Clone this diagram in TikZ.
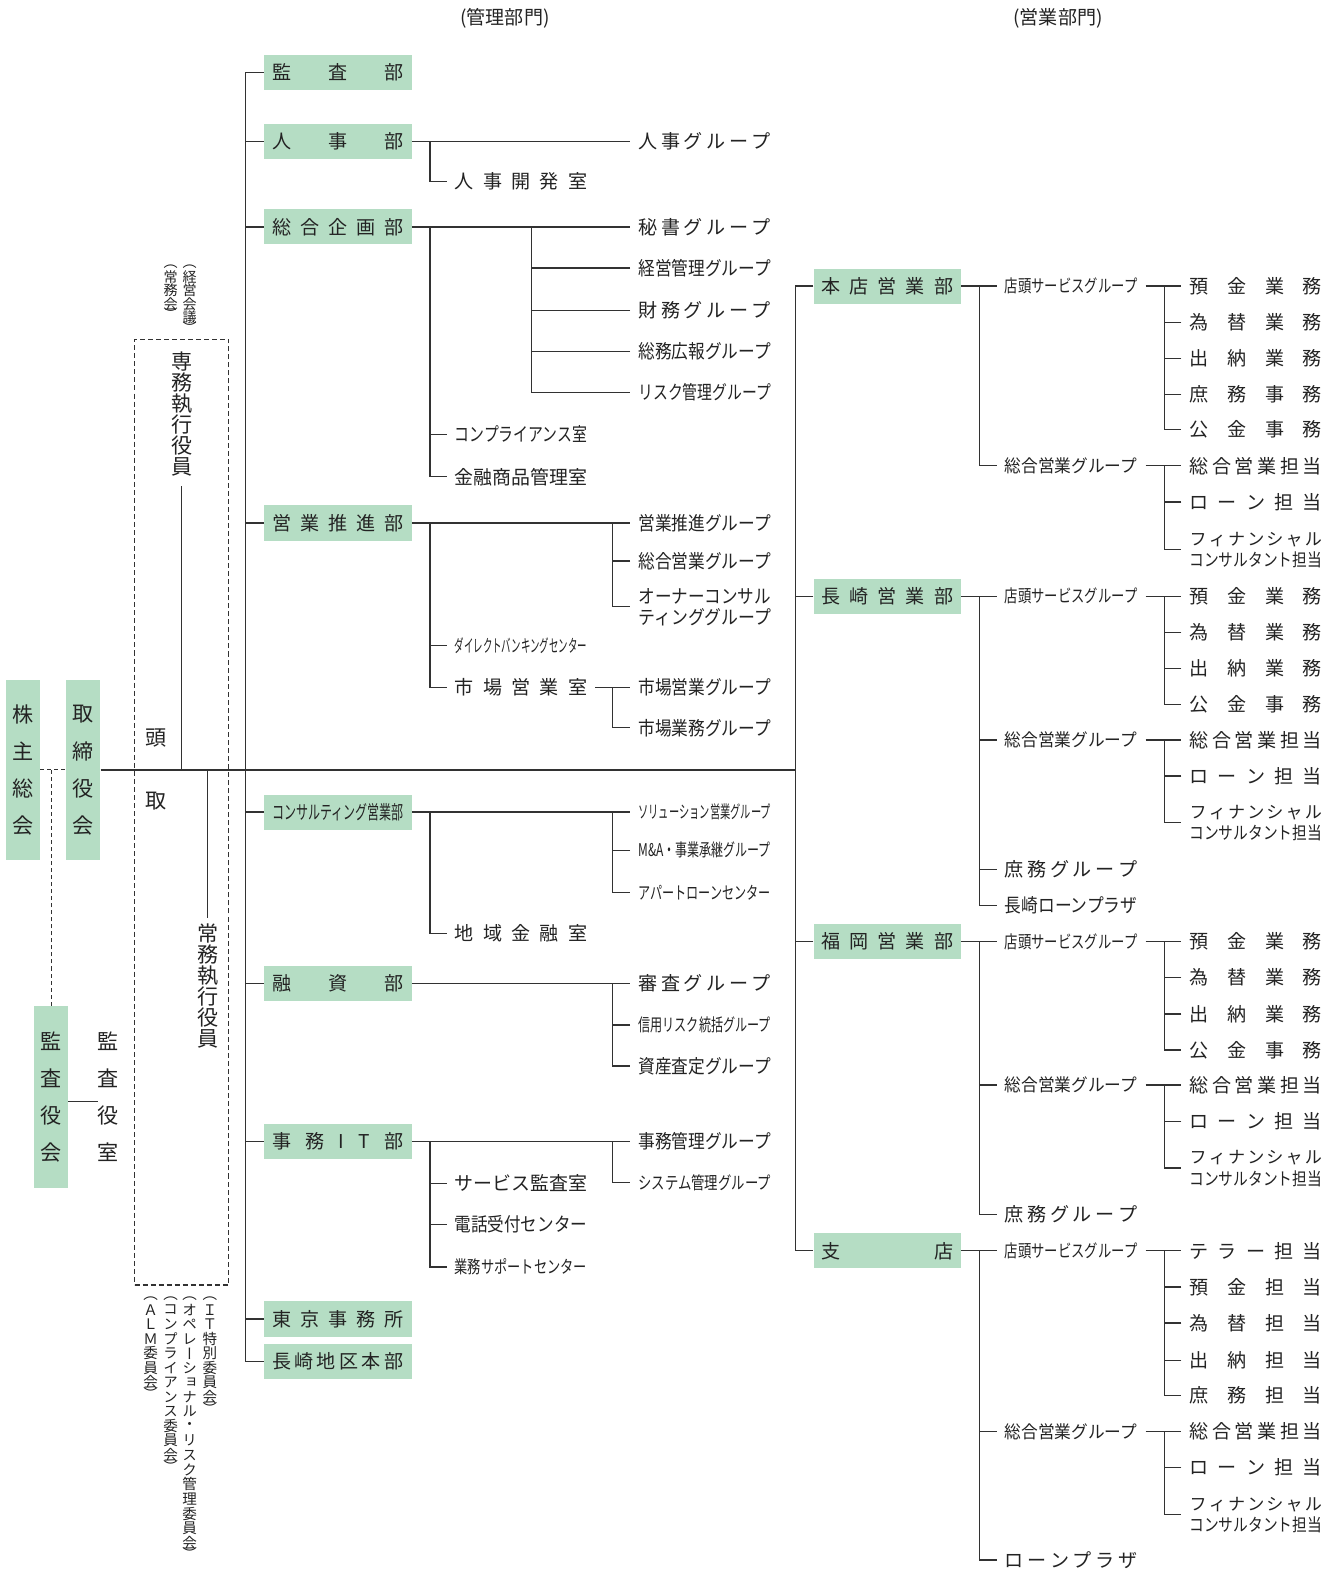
\documentclass[tikz,border=0pt]{standalone}
\usepackage{fontspec}
\usepackage{graphicx}
\setmainfont{Noto Sans CJK JP}
\newfontfamily\cjkv[RawFeature=+vert]{Noto Sans CJK JP}
\usetikzlibrary{calc}
\definecolor{boxgreen}{RGB}{181,221,196}
\definecolor{linec}{RGB}{50,50,50}
\definecolor{txt}{RGB}{35,35,35}

\makeatletter
% spread the characters of #2 evenly over width #1
\newlength\fit@w
\newcommand\spreadto[2]{\hbox to #1{\def\sp@sep{}\@tfor\sp@c:=#2\do{\sp@sep\sp@c\def\sp@sep{\hfil}}}}
% fit text to a fixed width: spread if short, condense if long
\newcommand\fit[2]{\settowidth\fit@w{#2}\ifdim\fit@w>#1\relax\resizebox{#1}{\height}{#2}\else\spreadto{#1}{#2}\fi}
% vertical writing: one character per cell, brackets take half a cell
\def\vs@lp{（}\def\vs@rp{）}
\newcommand\vs@cell[1]{\vbox to #1{\vss\hbox to 1em{\hss\vs@c\hss}\vss}}
\newcommand\vstack[2]{\vbox{\offinterlineskip\@tfor\vs@c:=#2\do{%
  \ifx\vs@c\vs@lp\vs@cell{\dimexpr#1/2\relax}\else
  \ifx\vs@c\vs@rp\vs@cell{\dimexpr#1/2\relax}\else
  \vs@cell{#1}\fi\fi}}}
\makeatother

\newcommand\orglbl[4][]{\node[lbl,#1] (#2) at #3 {\fit{132pt}{#4}};}

\begin{document}
\begin{tikzpicture}[x=1pt,y=-1pt,
  head/.style={font=\fontsize{19pt}{20pt}\selectfont, text=txt, inner sep=0pt},
  conn/.style={draw=linec, line width=1.35pt},
  dline/.style={draw=linec, line width=1.1pt, dash pattern=on 4pt off 3pt},
  frame/.style={draw=linec, line width=1.2pt, dash pattern=on 5pt off 3pt},
  orgbox/.style={fill=boxgreen, minimum width=147pt, minimum height=35pt, inner sep=0pt,
    font=\fontsize{19pt}{20pt}\selectfont, text=txt, text height=16.7pt, text depth=2.3pt},
  lbl/.style={inner xsep=8pt, inner ysep=0pt, font=\fontsize{19pt}{20pt}\selectfont,
    text=txt, text height=16.7pt, text depth=2.3pt},
  sm/.style={font=\fontsize{17.5pt}{18pt}\selectfont, text height=15.4pt, text depth=2.1pt},
  wide/.style={font=\fontsize{17pt}{18pt}\selectfont, text height=15pt, text depth=2pt},
  vbox/.style={fill=boxgreen, minimum width=34pt, inner sep=0pt, text=txt,
    font=\cjkv\fontsize{21pt}{21pt}\selectfont},
  vplain/.style={inner sep=0pt, text=txt, font=\cjkv\fontsize{21pt}{21pt}\selectfont},
  single/.style={inner sep=0pt, text=txt, font=\fontsize{21pt}{21pt}\selectfont},
  vsmall/.style={inner sep=0pt, text=txt, font=\cjkv\fontsize{14pt}{14pt}\selectfont},
  vcomm/.style={inner sep=0pt, text=txt, font=\cjkv\fontsize{14.5pt}{14.5pt}\selectfont}]

\fill[white] (0,0) rectangle (1330,1568);
\useasboundingbox (0,0) rectangle (1330,1568);

% column headings
\node[head] (hKanri) at (503,18) {(管理部門)};
\node[head] (hEigyo) at (1054,18) {(営業部門)};

% governance
\node[vbox, minimum height=180pt] (kabunushi) at (23,767) {\vstack{37pt}{株主総会}};
\node[vbox, minimum height=180pt] (torishimari) at (83,767) {\vstack{37pt}{取締役会}};
\node[vbox, minimum height=181pt] (kansayaku) at (51,1092.5) {\vstack{37pt}{監査役会}};
\node[vplain] (kansashitsu) at (108,1092.5) {\vstack{37pt}{監査役室}};

\node[frame, minimum width=94pt, minimum height=942pt] (execframe) at (181,809) {};
\node[vplain, anchor=north] (senmu) at (181,349) {\vstack{21pt}{専務執行役員}};
\node[single] (tou) at (155,735) {頭};
\node[single] (tori) at (155,798) {取};
\node[vplain, anchor=north] (joumu) at (207,919) {\vstack{21pt}{常務執行役員}};

\node[vsmall, anchor=north] (keieikaigi) at (189,262) {\vstack{13.5pt}{（経営会議）}};
\node[vsmall, anchor=north] (joumukai) at (170,262) {\vstack{13.5pt}{（常務会）}};
\node[vcomm, anchor=north] (itcomm) at (209,1290) {\vstack{14.5pt}{（ＩＴ特別委員会）}};
\node[vcomm, anchor=north] (oprisk) at (189,1290) {\vstack{14.5pt}{（オペレーショナル・リスク管理委員会）}};
\node[vcomm, anchor=north] (compcomm) at (170,1290) {\vstack{14.5pt}{（コンプライアンス委員会）}};
\node[vcomm, anchor=north] (almcomm) at (150,1290) {\vstack{14.5pt}{（ＡＬＭ委員会）}};

% administrative departments
\node[orgbox] (kansa) at (336.5,72) {\fit{131pt}{監査部}};
\node[orgbox] (jinji) at (336.5,141) {\fit{131pt}{人事部}};
\node[orgbox] (kikaku) at (336.5,226) {\fit{131pt}{総合企画部}};
\node[orgbox] (suishin) at (336.5,521) {\fit{131pt}{営業推進部}};
\node[orgbox] (consul) at (336.5,809) {\fit{131pt}{コンサルティング営業部}};
\node[orgbox] (yushi) at (336.5,980) {\fit{131pt}{融資部}};
\node[orgbox] (jimuit) at (336.5,1137) {\fit{131pt}{事務IT部}};
\node[orgbox] (tokyo) at (336.5,1314) {\fit{131pt}{東京事務所}};
\node[orgbox] (nhq) at (336.5,1356) {\fit{131pt}{長崎地区本部}};

% groups of the administrative departments
\orglbl{jinG}{(702,141)}{人事グループ}
\orglbl{kaihatsu}{(519,181)}{人事開発室}
\orglbl{hisho}{(702,226)}{秘書グループ}
\orglbl{keiei}{(702,267)}{経営管理グループ}
\orglbl{zaimu}{(702,309)}{財務グループ}
\orglbl{somu}{(702,350)}{総務広報グループ}
\orglbl{riskg}{(702,391)}{リスク管理グループ}
\orglbl{comp}{(519,433)}{コンプライアンス室}
\orglbl{kinyu}{(519,475)}{金融商品管理室}
\orglbl{suishinG}{(702,521)}{営業推進グループ}
\orglbl{sogoeG}{(702,559)}{総合営業グループ}
\orglbl{owner1}{(702,594)}{オーナーコンサル}
\orglbl{owner2}{(702,615)}{ティンググループ}
\orglbl[sm]{direct}{(519,643)}{ダイレクトバンキングセンター}
\orglbl{shijo}{(519,685)}{市場営業室}
\orglbl{shijoEG}{(702,685)}{市場営業グループ}
\orglbl{shijoGG}{(702,725)}{市場業務グループ}
\orglbl[sm]{solution}{(702,809)}{ソリューション営業グループ}
\orglbl[sm]{ma}{(702,847)}{M\&A・事業承継グループ}
\orglbl[sm]{apart}{(702,889)}{アパートローンセンター}
\orglbl{chiiki}{(519,930)}{地域金融室}
\orglbl{shinsa}{(702,980)}{審査グループ}
\orglbl[sm]{shinyo}{(702,1021)}{信用リスク統括グループ}
\orglbl{shisan}{(702,1062)}{資産査定グループ}
\orglbl{jimukanri}{(702,1137)}{事務管理グループ}
\orglbl[sm]{system}{(702,1178)}{システム管理グループ}
\orglbl{service}{(519,1179)}{サービス監査室}
\orglbl{denwa}{(519,1220)}{電話受付センター}
\orglbl[sm]{gyomu}{(519,1262)}{業務サポートセンター}

% sales departments
\node[orgbox] (honten) at (884,285) {\fit{131pt}{本店営業部}};
\node[orgbox] (nagasaki) at (884,594) {\fit{131pt}{長崎営業部}};
\node[orgbox] (fukuoka) at (884,938) {\fit{131pt}{福岡営業部}};
\node[orgbox] (shiten) at (884,1246) {\fit{131pt}{支店}};

% head office
\orglbl[sm]{hT}{(1067,285)}{店頭サービスグループ}
\orglbl[sm]{hS}{(1067,464)}{総合営業グループ}
\orglbl{hT1}{(1251,285)}{預金業務}
\orglbl{hT2}{(1251,321)}{為替業務}
\orglbl{hT3}{(1251,357)}{出納業務}
\orglbl{hT4}{(1251,393)}{庶務事務}
\orglbl{hT5}{(1251,428)}{公金事務}
\orglbl{hS1}{(1251,464)}{総合営業担当}
\orglbl{hS2}{(1251,500)}{ローン担当}
\orglbl[wide]{hS3}{(1251,537)}{フィナンシャル}
\orglbl[sm]{hS4}{(1251,558)}{コンサルタント担当}

% Nagasaki
\orglbl[sm]{nT}{(1067,594)}{店頭サービスグループ}
\orglbl[sm]{nS}{(1067,737)}{総合営業グループ}
\orglbl{nM}{(1067,866)}{庶務グループ}
\orglbl{nL}{(1067,902)}{長崎ローンプラザ}
\orglbl{nT1}{(1251,594)}{預金業務}
\orglbl{nT2}{(1251,630)}{為替業務}
\orglbl{nT3}{(1251,666)}{出納業務}
\orglbl{nT4}{(1251,702)}{公金事務}
\orglbl{nS1}{(1251,737)}{総合営業担当}
\orglbl{nS2}{(1251,773)}{ローン担当}
\orglbl[wide]{nS3}{(1251,809)}{フィナンシャル}
\orglbl[sm]{nS4}{(1251,830)}{コンサルタント担当}

% Fukuoka
\orglbl[sm]{fT}{(1067,938)}{店頭サービスグループ}
\orglbl[sm]{fS}{(1067,1081)}{総合営業グループ}
\orglbl{fM}{(1067,1210)}{庶務グループ}
\orglbl{fT1}{(1251,938)}{預金業務}
\orglbl{fT2}{(1251,974)}{為替業務}
\orglbl{fT3}{(1251,1010)}{出納業務}
\orglbl{fT4}{(1251,1046)}{公金事務}
\orglbl{fS1}{(1251,1081)}{総合営業担当}
\orglbl{fS2}{(1251,1117)}{ローン担当}
\orglbl[wide]{fS3}{(1251,1153)}{フィナンシャル}
\orglbl[sm]{fS4}{(1251,1174)}{コンサルタント担当}

% branches
\orglbl[sm]{sT}{(1067,1246)}{店頭サービスグループ}
\orglbl[sm]{sS}{(1067,1426)}{総合営業グループ}
\orglbl{sL}{(1067,1554)}{ローンプラザ}
\orglbl{sT1}{(1251,1246)}{テラー担当}
\orglbl{sT2}{(1251,1282)}{預金担当}
\orglbl{sT3}{(1251,1318)}{為替担当}
\orglbl{sT4}{(1251,1355)}{出納担当}
\orglbl{sT5}{(1251,1390)}{庶務担当}
\orglbl{sS1}{(1251,1426)}{総合営業担当}
\orglbl{sS2}{(1251,1462)}{ローン担当}
\orglbl[wide]{sS3}{(1251,1498)}{フィナンシャル}
\orglbl[sm]{sS4}{(1251,1519)}{コンサルタント担当}

% ---------- connectors ----------
\draw[dline] (kabunushi.east) -- (torishimari.west);
\draw[dline] (kansayaku.north) -- (kansayaku.north |- kabunushi.east);
\draw[conn] ([yshift=-5pt]kansayaku.east) -- ([yshift=-5pt]kansashitsu.west);

\coordinate (rtrunk) at (793,767);
\draw[conn] (torishimari.east) -- (rtrunk);
\draw[conn] ([yshift=-9pt]senmu.south) -- (senmu.south |- torishimari.east);
\draw[conn] (joumu.north |- torishimari.east) -- ([yshift=5pt]joumu.north);

% administrative trunk
\draw[conn] (kansa.west) -- ++(-18,0) |- (nhq.west);
\foreach \n in {jinji,kikaku,suishin,consul,yushi,jimuit,tokyo} \draw[conn] (\n.west) -- ++(-18,0);

\draw[conn] (jinji.east) -- (jinG.west);
\draw[conn] (jinji.east) ++(18,0) |- (kaihatsu.west);

\draw[conn] (kikaku.east) -- (hisho.west);
\draw[conn] (kikaku.east) ++(119,0) |- (riskg.west);
\foreach \n in {keiei,zaimu,somu} \draw[conn] (\n.west) -- ++(-99,0);
\draw[conn] (kikaku.east) ++(18,0) |- (kinyu.west);
\draw[conn] (comp.west) -- ++(-17,0);

\draw[conn] (suishin.east) -- (suishinG.west);
\draw[conn] (suishin.east) ++(200,0) |- ($(owner1.west)!.5!(owner2.west)$);
\draw[conn] (sogoeG.west) -- ++(-18,0);
\draw[conn] (suishin.east) ++(18,0) |- (shijo.west);
\draw[conn] (direct.west) -- ++(-17,0);
\draw[conn] (shijo.east) -- (shijoEG.west);
\draw[conn] (shijo.east) ++(17,0) |- (shijoGG.west);

\draw[conn] (consul.east) -- (solution.west);
\draw[conn] (consul.east) ++(200,0) |- (apart.west);
\draw[conn] (ma.west) -- ++(-18,0);
\draw[conn] (consul.east) ++(18,0) |- (chiiki.west);

\draw[conn] (yushi.east) -- (shinsa.west);
\draw[conn] (yushi.east) ++(200,0) |- (shisan.west);
\draw[conn] (shinyo.west) -- ++(-18,0);

\draw[conn] (jimuit.east) -- (jimukanri.west);
\draw[conn] (jimuit.east) ++(200,0) |- (system.west);
\draw[conn] (jimuit.east) ++(18,0) |- (gyomu.west);
\foreach \n in {service,denwa} \draw[conn] (\n.west) -- ++(-17,0);

% sales trunk
\draw[conn] (honten.west) -- ++(-18,0) |- (shiten.west);
\foreach \n in {nagasaki,fukuoka} \draw[conn] (\n.west) -- ++(-18,0);

% head office tree
\draw[conn] (honten.east) -- (hT.west);
\draw[conn] (honten.east) ++(18,0) |- (hS.west);
\draw[conn] (hT.east) -- (hT1.west);
\draw[conn] (hT.east) ++(19,0) |- (hT5.west);
\draw[conn] (hS.east) -- (hS1.west);
\draw[conn] (hS.east) ++(19,0) |- ($(hS3.west)!.5!(hS4.west)$);
\foreach \n in {hT2,hT3,hT4,hS2} \draw[conn] (\n.west) -- ++(-17,0);

% Nagasaki tree
\draw[conn] (nagasaki.east) -- (nT.west);
\draw[conn] (nagasaki.east) ++(18,0) |- (nL.west);
\foreach \n in {nS,nM} \draw[conn] (\n.west) -- ++(-18,0);
\draw[conn] (nT.east) -- (nT1.west);
\draw[conn] (nT.east) ++(19,0) |- (nT4.west);
\draw[conn] (nS.east) -- (nS1.west);
\draw[conn] (nS.east) ++(19,0) |- ($(nS3.west)!.5!(nS4.west)$);
\foreach \n in {nT2,nT3,nS2} \draw[conn] (\n.west) -- ++(-17,0);

% Fukuoka tree
\draw[conn] (fukuoka.east) -- (fT.west);
\draw[conn] (fukuoka.east) ++(18,0) |- (fM.west);
\draw[conn] (fS.west) -- ++(-18,0);
\draw[conn] (fT.east) -- (fT1.west);
\draw[conn] (fT.east) ++(19,0) |- (fT4.west);
\draw[conn] (fS.east) -- (fS1.west);
\draw[conn] (fS.east) ++(19,0) |- ($(fS3.west)!.5!(fS4.west)$);
\foreach \n in {fT2,fT3,fS2} \draw[conn] (\n.west) -- ++(-17,0);

% branch tree
\draw[conn] (shiten.east) -- (sT.west);
\draw[conn] (shiten.east) ++(18,0) |- (sL.west);
\draw[conn] (sS.west) -- ++(-18,0);
\draw[conn] (sT.east) -- (sT1.west);
\draw[conn] (sT.east) ++(19,0) |- (sT5.west);
\draw[conn] (sS.east) -- (sS1.west);
\draw[conn] (sS.east) ++(19,0) |- ($(sS3.west)!.5!(sS4.west)$);
\foreach \n in {sT2,sT3,sT4,sS2} \draw[conn] (\n.west) -- ++(-17,0);
\end{tikzpicture}
\end{document}
